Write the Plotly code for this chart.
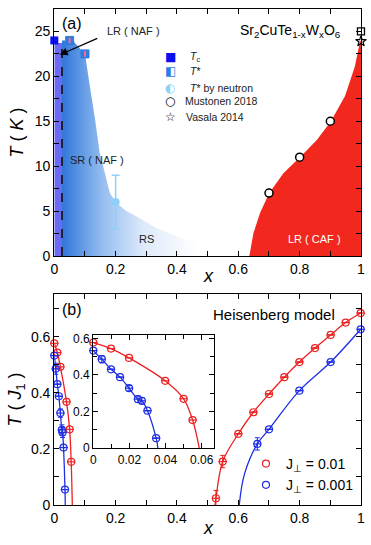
import plotly.graph_objects as go

# ---------------- panel (a) data ----------------
tc_x = [0.0]
tc_T = [24.0]
tstar_x = [0.05, 0.10]
tstar_T = [24.0, 22.5]
neutron_x = [0.2]
neutron_T = [6.0]
neutron_err = [3.0]
mustonen_x = [0.7, 0.8, 0.9]
mustonen_T = [7.0, 11.0, 15.0]
end_x = [1.0]
end_T = [25.0]
vasala_x = [1.0]
vasala_T = [23.9]

# phase boundaries
naf_lr_x = [0.0, 0.025, 0.025, 0.0]
naf_lr_T = [0.0, 0.0, 23.7, 23.7]
naf_sr_x = [0.025, 0.06, 0.10, 0.116, 0.133, 0.148, 0.165, 0.181, 0.203, 0.235,
            0.269, 0.334, 0.40, 0.45, 0.48, 0.50, 0.025]
naf_sr_T = [24.0, 24.0, 22.5, 18.9, 15.2, 11.5, 9.2, 7.0, 5.9, 5.0,
            4.4, 3.1, 2.2, 1.5, 0.8, 0.0, 0.0]
caf_x = [0.636, 0.649, 0.671, 0.701, 0.747, 0.801, 0.856, 0.902, 0.948, 0.98, 0.997, 1.0, 1.0]
caf_T = [0.0, 2.5, 4.8, 7.0, 9.2, 11.0, 12.9, 15.0, 17.8, 21.1, 23.9, 23.9, 0.0]
dash_x = [0.025, 0.025]
dash_T = [0.0, 24.0]

# legend of panel (a)
leg_symbols = ["■", "◧", "◐", "○", "☆"]
leg_colors = ["#0a10f0", "#2a7de1", "#8ed0f7", "black", "black"]
leg_labels = ["<i>T</i><sub>c</sub>", "<i>T</i>*", "<i>T</i>* by neutron",
              "Mustonen 2018", "Vasala 2014"]

# ---------------- panel (b) data ----------------
# J_perp = 0.01
r_left_x = [0.0, 0.0098, 0.0198, 0.0398, 0.05, 0.055]
r_left_T = [0.577, 0.544, 0.493, 0.368, 0.27, 0.154]
r_left_fit_x = [0.0, 0.0098, 0.0198, 0.0398, 0.05, 0.055, 0.0587]
r_left_fit_T = [0.577, 0.544, 0.493, 0.368, 0.27, 0.154, 0.0]
r_right_x = [0.527, 0.549, 0.60, 0.649, 0.70, 0.75, 0.799, 0.85, 0.901, 0.95, 0.999]
r_right_T = [0.024, 0.155, 0.254, 0.331, 0.396, 0.456, 0.51, 0.56, 0.607, 0.651, 0.685]
r_right_err = [0.028, 0.022, 0, 0, 0, 0, 0, 0, 0, 0, 0]
r_right_fit_x = [0.524, 0.527, 0.549, 0.60, 0.649, 0.70, 0.75, 0.799, 0.85, 0.901, 0.95, 0.999]
r_right_fit_T = [0.0, 0.024, 0.155, 0.254, 0.331, 0.396, 0.456, 0.51, 0.56, 0.607, 0.651, 0.685]

# J_perp = 0.001
b_left_x = [0.0, 0.0047, 0.0098, 0.0148, 0.0198, 0.0247, 0.0269, 0.030, 0.0348]
b_left_T = [0.533, 0.486, 0.431, 0.388, 0.328, 0.268, 0.259, 0.205, 0.055]
b_left_err = [0, 0.02, 0, 0, 0.015, 0.018, 0.018, 0, 0]
b_left_fit_x = [0.0, 0.0047, 0.0098, 0.0148, 0.0198, 0.0247, 0.0269, 0.030, 0.0348, 0.0358]
b_left_fit_T = [0.533, 0.486, 0.431, 0.388, 0.328, 0.268, 0.259, 0.205, 0.055, 0.0]
b_right_x = [0.662, 0.70, 0.799, 0.901, 0.999]
b_right_T = [0.218, 0.27, 0.408, 0.51, 0.627]
b_right_err = [0.022, 0, 0, 0, 0]
b_right_fit_x = [0.603, 0.62, 0.662, 0.70, 0.799, 0.901, 0.999]
b_right_fit_T = [0.0, 0.11, 0.218, 0.27, 0.408, 0.51, 0.627]

FONT = "Arial, Liberation Sans, sans-serif"
RED = "#f2281e"
PRED = "#ee2020"
PBLUE = "#1f2fe6"
W, H = 371, 545

fig = go.Figure()

# ---- panel (a) ----
fig.add_trace(go.Scatter(x=naf_sr_x, y=naf_sr_T, fill="toself", mode="none",
                         fillgradient=dict(type="horizontal", start=0.025, stop=0.47,
                                           colorscale=[[0, "rgb(48,118,218)"],
                                                       [0.3, "rgb(150,190,240)"],
                                                       [0.6, "rgb(222,234,250)"],
                                                       [1, "rgb(255,255,255)"]]),
                         showlegend=False, hoverinfo="skip"))
fig.add_trace(go.Scatter(x=naf_lr_x, y=naf_lr_T, fill="toself", mode="none",
                         fillcolor="#6a6af2", showlegend=False))
fig.add_trace(go.Scatter(x=caf_x, y=caf_T, fill="toself", mode="none",
                         fillcolor=RED, showlegend=False))
fig.add_trace(go.Scatter(x=dash_x, y=dash_T, mode="lines",
                         line=dict(color="#1a1a1a", width=1.8, dash="dash"),
                         showlegend=False))

fig.add_trace(go.Scatter(x=tc_x, y=tc_T, mode="markers", showlegend=False,
                         marker=dict(symbol="square", size=8, color="#0a10f0"),
                         cliponaxis=False))
fig.add_trace(go.Scatter(x=tstar_x, y=tstar_T, mode="markers", showlegend=False,
                         marker=dict(symbol="square", size=8, color="#2a7de1",
                                     line=dict(color="#2a7de1", width=1))))
fig.add_trace(go.Scatter(x=tstar_x, y=tstar_T, mode="markers", showlegend=False,
                         marker=dict(symbol="line-ns-open", size=4,
                                     line=dict(color="white", width=2))))
fig.add_trace(go.Scatter(x=neutron_x, y=neutron_T, mode="markers", showlegend=False,
                         error_y=dict(type="data", array=neutron_err, color="#8ed0f7",
                                      thickness=1.5, width=4),
                         marker=dict(symbol="circle", size=8, color="#8ed0f7")))
fig.add_trace(go.Scatter(x=mustonen_x, y=mustonen_T, mode="markers", showlegend=False,
                         marker=dict(symbol="circle", size=8, color="white",
                                     line=dict(color="black", width=1.5))))
fig.add_trace(go.Scatter(x=vasala_x, y=vasala_T, mode="markers", showlegend=False,
                         marker=dict(symbol="star-open", size=8, color="black",
                                     line=dict(width=1.2)), cliponaxis=False))
fig.add_trace(go.Scatter(x=end_x, y=end_T, mode="markers", showlegend=False,
                         marker=dict(symbol="square", size=7, color="white",
                                     line=dict(color="black", width=1.3)),
                         cliponaxis=False))


# ---- panel (b): main and inset ----
def add_series(xs, ys, errs, color, xa, ya, name=None, legend=False):
    fig.add_trace(go.Scatter(x=xs, y=ys, mode="markers", xaxis=xa, yaxis=ya,
                             name=name, showlegend=legend,
                             error_y=dict(type="data", array=errs, color=color,
                                          thickness=1, width=2.5) if errs else None,
                             marker=dict(symbol="circle-open", size=7, color=color,
                                         line=dict(width=1.2)),
                             cliponaxis=False))
    fig.add_trace(go.Scatter(x=xs, y=ys, mode="markers", xaxis=xa, yaxis=ya,
                             showlegend=False,
                             marker=dict(symbol="line-ew-open", size=6, color=color,
                                         line=dict(width=1.2)),
                             cliponaxis=False))


def add_fit(xs, ys, color, xa, ya):
    fig.add_trace(go.Scatter(x=xs, y=ys, mode="lines", xaxis=xa, yaxis=ya,
                             line=dict(color=color, width=1.3, shape="spline"),
                             showlegend=False))


for xa, ya in [("x2", "y2"), ("x3", "y3")]:
    add_fit(r_left_fit_x, r_left_fit_T, PRED, xa, ya)
    add_fit(b_left_fit_x, b_left_fit_T, PBLUE, xa, ya)
    add_series(r_left_x, r_left_T, None, PRED, xa, ya)
    add_series(b_left_x, b_left_T, b_left_err, PBLUE, xa, ya)

add_fit(r_right_fit_x, r_right_fit_T, PRED, "x2", "y2")
add_fit(b_right_fit_x, b_right_fit_T, PBLUE, "x2", "y2")
add_series(r_right_x, r_right_T, r_right_err, PRED, "x2", "y2",
           name="J<sub>⊥</sub> = 0.01", legend=True)
add_series(b_right_x, b_right_T, b_right_err, PBLUE, "x2", "y2",
           name="J<sub>⊥</sub> = 0.001", legend=True)

ax_common = dict(showline=True, linecolor="black", linewidth=1.3, mirror="ticks",
                 ticks="inside", ticklen=5, tickwidth=1.2, tickcolor="black",
                 showgrid=False, zeroline=False, automargin=False,
                 tickfont=dict(family=FONT, size=14, color="black"))
inset_ax = {**ax_common, "tickfont": dict(family=FONT, size=12, color="black")}

fig.update_layout(
    width=W, height=H,
    margin=dict(l=0, r=0, t=0, b=0, autoexpand=False),
    paper_bgcolor="white", plot_bgcolor="white",
    font=dict(family=FONT, color="black"),
    xaxis=dict(domain=[0.1464, 0.973], anchor="y", range=[0, 1], dtick=0.2,
               minor=dict(dtick=0.1, ticks="inside", ticklen=5, tickcolor="black"),
               **ax_common),
    yaxis=dict(domain=[0.5303, 0.9835], anchor="x", range=[0, 27.5], dtick=5,
               minor=dict(dtick=2.5, ticks="inside", ticklen=5, tickcolor="black"),
               title=dict(text="<i>T</i> ( <i>K</i> )", font=dict(size=18), standoff=6),
               **ax_common),
    xaxis2=dict(domain=[0.1464, 0.973], anchor="y2", range=[0, 1], dtick=0.2,
                minor=dict(dtick=0.1, ticks="inside", ticklen=5, tickcolor="black"),
                **ax_common),
    yaxis2=dict(domain=[0.0734, 0.4606], anchor="x2", range=[0, 0.753], dtick=0.2,
                minor=dict(dtick=0.1, ticks="inside", ticklen=5, tickcolor="black"),
                title=dict(text="<i>T</i> ( <i>J</i><sub>1</sub> )", font=dict(size=18),
                           standoff=4),
                **ax_common),
    xaxis3=dict(domain=[0.2515, 0.5776], anchor="y3", range=[0, 0.067], dtick=0.02,
                minor=dict(dtick=0.01, ticks="inside", ticklen=4, tickcolor="black"),
                **inset_ax),
    yaxis3=dict(domain=[0.1775, 0.3853], anchor="x3", range=[0, 0.618], dtick=0.2,
                minor=dict(dtick=0.1, ticks="inside", ticklen=4, tickcolor="black"),
                **inset_ax),
    legend=dict(x=0.663, y=0.178, xanchor="left", yanchor="top", bgcolor="rgba(0,0,0,0)",
                font=dict(family=FONT, size=14, color="black"), tracegroupgap=0),
)

# x-axis titles
for ypix in [276, 528]:
    fig.add_annotation(text="<i>x</i>", x=208 / W, y=1 - ypix / H, xref="paper",
                       yref="paper", xanchor="center", yanchor="middle",
                       showarrow=False, font=dict(size=18))

# legend of panel (a), drawn as text rows
leg_ypix = [57, 71, 88, 101, 117]
leg_text_x = [188, 188, 188, 183, 184]
for sym, col, lab, ypix, tx in zip(leg_symbols, leg_colors, leg_labels, leg_ypix, leg_text_x):
    fig.add_annotation(text=sym, x=170 / W, y=1 - ypix / H, xref="paper", yref="paper",
                       xanchor="center", yanchor="middle", showarrow=False,
                       font=dict(family="DejaVu Sans", size=12, color=col))
    fig.add_annotation(text=lab, x=tx / W, y=1 - ypix / H, xref="paper", yref="paper",
                       xanchor="left", yanchor="middle", showarrow=False,
                       font=dict(family=FONT, size=10.5, color="#222222"))

fig.add_annotation(text="(a)", x=0.02, y=27.1, xref="x", yref="y", xanchor="left",
                   yanchor="top", showarrow=False, font=dict(size=16))
fig.add_annotation(text="Sr<sub>2</sub>CuTe<sub>1-x</sub>W<sub>x</sub>O<sub>6</sub>",
                   x=0.941, y=25.0, xref="x", yref="y", xanchor="right", showarrow=False,
                   font=dict(size=14))
fig.add_annotation(text="LR ( NAF )", x=0.165, y=25.1, xref="x", yref="y",
                   xanchor="left", showarrow=False, font=dict(size=11, color="#222222"))
fig.add_annotation(text="", x=0.018, y=22.4, ax=0.145, ay=24.3, xref="x", yref="y",
                   axref="x", ayref="y", showarrow=True, arrowhead=2, arrowsize=1.2,
                   arrowwidth=1.3, arrowcolor="black")
fig.add_annotation(text="SR ( NAF )", x=0.045, y=10.7, xref="x", yref="y",
                   xanchor="left", showarrow=False, font=dict(size=11, color="#222222"))
fig.add_annotation(text="RS", x=0.3, y=1.9, xref="x", yref="y",
                   showarrow=False, font=dict(size=11, color="#222222"))
fig.add_annotation(text="LR ( CAF )", x=0.85, y=1.9, xref="x", yref="y",
                   showarrow=False, font=dict(size=11, color="white"))
fig.add_annotation(text="(b)", x=0.02, y=0.735, xref="x2", yref="y2", xanchor="left",
                   yanchor="top", showarrow=False, font=dict(size=16))
fig.add_annotation(text="Heisenberg model", x=0.922, y=0.679, xref="x2", yref="y2",
                   xanchor="right", showarrow=False, font=dict(size=15))

fig.write_html("out.html", config={"displayModeBar": False},
               post_script="document.body.style.margin='0';")
